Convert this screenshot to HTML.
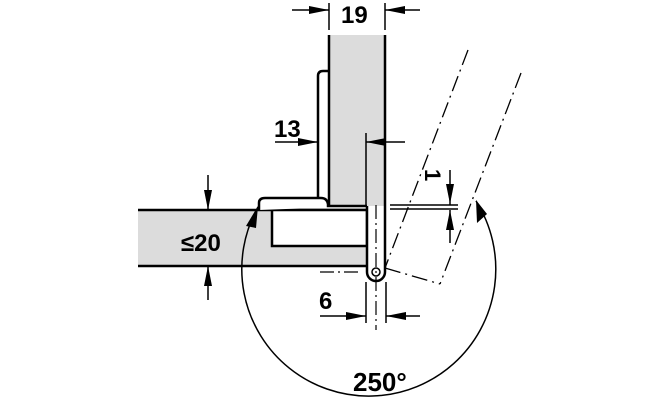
<!DOCTYPE html>
<html><head><style>html,body{margin:0;padding:0;background:#fff}svg{display:block}</style></head>
<body>
<svg width="660" height="400" viewBox="0 0 660 400" xmlns="http://www.w3.org/2000/svg" font-family="Liberation Sans, sans-serif" font-weight="bold">
<rect x="329" y="35" width="56" height="171" fill="#dcdcdc"/>
<line x1="329" y1="35" x2="329" y2="206" stroke="#000" stroke-width="2.5"/>
<line x1="385" y1="35" x2="385" y2="206" stroke="#000" stroke-width="2.5"/>
<path d="M318 198 V76 Q318 71 323 71 H329" fill="none" stroke="#000" stroke-width="2.5"/>
<rect x="138" y="210" width="229" height="56" fill="#dcdcdc"/>
<line x1="138" y1="210" x2="367" y2="210" stroke="#000" stroke-width="2.5"/>
<line x1="138" y1="266" x2="367" y2="266" stroke="#000" stroke-width="2.5"/>
<rect x="272" y="210" width="95" height="36" fill="#fff" stroke="#000" stroke-width="2.5"/>
<path d="M259 210 V203 Q259 198 265 198 H321 Q327 198 328 204 V206 H367" fill="#fff" stroke="#000" stroke-width="2.5"/>
<path d="M367 206 V272 A9 9 0 0 0 385 272 V206" fill="#fff" stroke="#000" stroke-width="2.5"/>
<circle cx="376" cy="272" r="4" fill="#fff" stroke="#000" stroke-width="1.5"/>
<line x1="376" y1="205" x2="376" y2="330" stroke="#000" stroke-width="1.2" stroke-dasharray="14,4,2,4"/>
<line x1="366" y1="282" x2="366" y2="323" stroke="#000" stroke-width="1.5"/>
<line x1="386" y1="282" x2="386" y2="323" stroke="#000" stroke-width="1.5"/>
<line x1="320" y1="272" x2="362" y2="272" stroke="#000" stroke-width="1.2" stroke-dasharray="14,4,2,4"/>
<g stroke="#000" stroke-width="1.3" fill="none" stroke-dasharray="16,5,2,5">
<line x1="468" y1="50" x2="385" y2="268"/>
<line x1="521" y1="73" x2="440" y2="284"/>
<line x1="385" y1="268" x2="440" y2="284"/>
</g>
<path d="M258 207 A127 127 0 1 0 476 201" fill="none" stroke="#000" stroke-width="1.5"/>
<polygon points="258,206 246,226 256,228" fill="#000"/>
<polygon points="476,200 477,223 487,214" fill="#000"/>
<g stroke="#000" stroke-width="1.5">
<line x1="329" y1="3" x2="329" y2="30"/><line x1="385" y1="3" x2="385" y2="30"/>
<line x1="292" y1="10" x2="329" y2="10"/><line x1="385" y1="10" x2="420" y2="10"/>
<line x1="275" y1="142" x2="318" y2="142"/><line x1="366" y1="133" x2="366" y2="205"/><line x1="366" y1="142" x2="405" y2="142"/>
<line x1="208" y1="175" x2="208" y2="210"/><line x1="208" y1="266" x2="208" y2="300"/>
<line x1="320" y1="316" x2="366" y2="316"/><line x1="386" y1="316" x2="420" y2="316"/>
<line x1="450" y1="170" x2="450" y2="205"/><line x1="450" y1="210" x2="450" y2="243"/>
<line x1="390" y1="205" x2="458" y2="205"/><line x1="390" y1="209" x2="458" y2="209"/>
</g>
<g fill="#000">
<polygon points="329,10 309,6 309,14"/><polygon points="385,10 405,6 405,14"/>
<polygon points="318,142 298,138 298,146"/><polygon points="366,142 386,138 386,146"/>
<polygon points="208,210 204,190 212,190"/><polygon points="208,266 204,286 212,286"/>
<polygon points="366,316 346,312 346,320"/><polygon points="386,316 406,312 406,320"/>
<polygon points="450,204 446,184 454,184"/><polygon points="450,210 446,230 454,230"/>
</g>
<g font-size="24" fill="#000">
<text x="341" y="23">19</text>
<text x="274" y="137">13</text>
<text x="181" y="251">≤20</text>
<text x="319" y="309">6</text>
<text x="353" y="391" font-size="26">250°</text>
<text x="0" y="0" font-size="22" transform="translate(425,169) rotate(90)">1</text>
</g>
</svg>
</body></html>
